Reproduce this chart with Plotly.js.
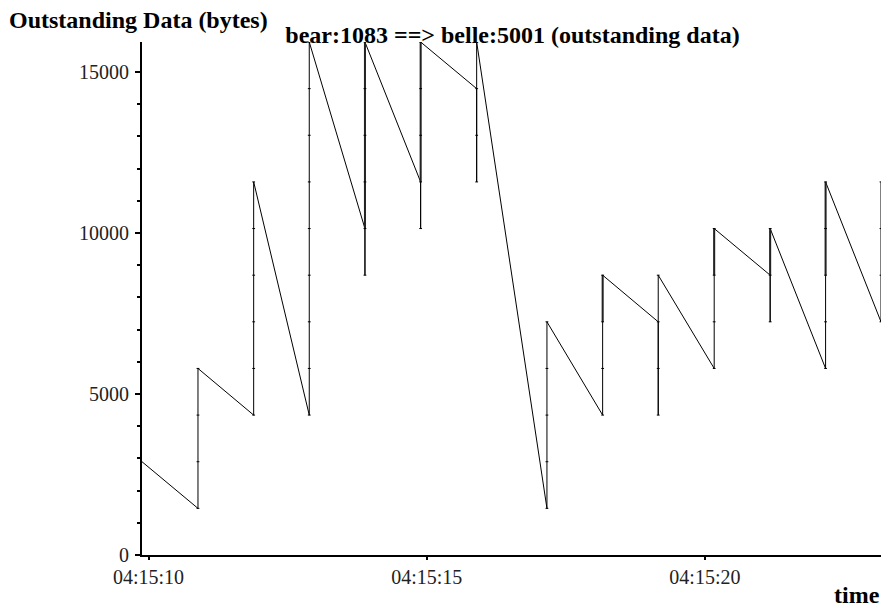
<!DOCTYPE html>
<html>
<head>
<meta charset="utf-8">
<script src="https://cdn.plot.ly/plotly-3.0.1.min.js"></script>
<style>html,body{margin:0;padding:0;background:#fff;}#chart{width:886px;height:611px;}</style>
</head>
<body>
<div id="chart"></div>
<script>
// ---- data ----
const dayPrefix = '2000-01-01 04:15:';
const startSec = 9.883;
const startBytes = 2896;
// time (seconds within 04:15) of each vertical burst
const eventSec = [10.889, 11.890, 12.889, 13.890, 14.891, 15.898, 17.161, 18.162, 19.161, 20.167, 21.173, 22.169, 23.165];
// outstanding bytes where each falling line ends
const fallEnd = [1448, 4344, 4344, 10136, 11584, 14480, 1448, 4344, 7240, 5792, 8688, 5792, 7240];
// bottom and top of each vertical burst
const burstLow = [1448, 4344, 4344, 8688, 10136, 11584, 1448, 4344, 4344, 5792, 7240, 5792, 7240];
const burstHigh = [5792, 11584, 15928, 15928, 15928, 15928, 7240, 8688, 8688, 10136, 10136, 11584, 11584];
// segment marks visible along each vertical burst
const segMarks = [
  [1448, 2896, 4344, 5792],
  [4344, 5792, 7240, 8688, 10136, 11584],
  [4344, 5792, 7240, 8688, 10136, 11584, 13032, 14480, 15928],
  [8688, 10136, 11584, 13032, 14480, 15928],
  [10136, 11584, 13032, 14480, 15928],
  [11584, 13032, 14480, 15928],
  [1448, 2896, 4344, 5792, 7240],
  [4344, 5792, 7240, 8688],
  [4344, 5792, 7240, 8688],
  [5792, 7240, 8688, 10136],
  [7240, 8688, 10136],
  [5792, 7240, 8688, 10136, 11584],
  [7240, 8688, 10136, 11584]
];
// parts of bursts drawn twice (appear heavier): burst index, low, high
const heavyIdx = [3, 4, 7, 9, 10, 11];
const heavyLow = [10136, 11584, 7240, 8688, 8688, 8688];
const heavyHigh = [15928, 15928, 8688, 10136, 10136, 11584];

const yTickVals = [0, 5000, 10000, 15000];
const yTickText = ['0', '5000', '10000', '15000'];
const xTickSec = [10, 15, 20];
const xTickText = ['04:15:10', '04:15:15', '04:15:20'];
const yMax = 15928;
const xEndSec = 23.165;

function ts(sec) {
  const whole = Math.floor(sec);
  const ms = Math.round((sec - whole) * 1000);
  return dayPrefix + String(whole).padStart(2, '0') + '.' + String(ms).padStart(3, '0');
}

// build the line path
const lx = [ts(startSec)], ly = [startBytes];
eventSec.forEach((s, i) => {
  lx.push(ts(s), ts(s), ts(s));
  ly.push(fallEnd[i], burstLow[i], burstHigh[i]);
});
const mx = [], my = [];
eventSec.forEach((s, i) => {
  segMarks[i].forEach(v => { mx.push(ts(s)); my.push(v); });
});
const hx = [], hy = [];
heavyIdx.forEach((k, j) => {
  hx.push(ts(eventSec[k]), ts(eventSec[k]), null);
  hy.push(heavyLow[j], heavyHigh[j], null);
});

const serif = 'Liberation Serif, Times New Roman, Times, serif';

const traces = [
  {x: lx, y: ly, type: 'scatter', mode: 'lines', line: {color: '#000', width: 1}, hoverinfo: 'skip', showlegend: false},
  {x: hx, y: hy, type: 'scatter', mode: 'lines', line: {color: '#222', width: 2}, connectgaps: false, hoverinfo: 'skip', showlegend: false},
  {x: mx, y: my, type: 'scatter', mode: 'markers',
   marker: {symbol: 'line-ew', size: 2, color: '#000', line: {color: '#000', width: 1}}, hoverinfo: 'skip', showlegend: false}
];

const layout = {
  width: 886, height: 611,
  margin: {l: 142, r: 5, t: 42, b: 56, pad: 0},
  paper_bgcolor: '#fff', plot_bgcolor: '#fff',
  font: {family: serif, size: 20, color: '#000'},
  showlegend: false,
  title: {
    text: '<b>bear:1083 ==> belle:5001 (outstanding data)</b>',
    font: {family: serif, size: 24, color: '#000'},
    xref: 'container', yref: 'container',
    x: 512.5 / 886, y: 1 - 35 / 611, xanchor: 'center', yanchor: 'middle'
  },
  xaxis: {
    type: 'date',
    range: [ts(startSec), ts(xEndSec)],
    tickvals: xTickSec.map(ts), ticktext: xTickText,
    showgrid: false, zeroline: false,
    showline: true, linecolor: '#000', linewidth: 2,
    ticks: 'outside', ticklen: 3, tickwidth: 2, tickcolor: '#000',
    tickfont: {family: serif, size: 20, color: '#222'},
    fixedrange: true
  },
  yaxis: {
    range: [0, yMax],
    tickvals: yTickVals, ticktext: yTickText,
    showgrid: false, zeroline: false,
    showline: true, linecolor: '#000', linewidth: 2,
    ticks: 'outside', ticklen: 5, tickwidth: 2, tickcolor: '#000',
    ticklabelstandoff: 2,
    minor: {dtick: 1000, ticks: 'outside', ticklen: 3, tickwidth: 2, tickcolor: '#000', showgrid: false},
    tickfont: {family: serif, size: 20, color: '#222'},
    fixedrange: true
  },
  annotations: [
    {text: '<b>Outstanding Data (bytes)</b>', xref: 'paper', yref: 'paper',
     x: (7 - 142) / 739, y: (555 - 20) / 513, xanchor: 'left', yanchor: 'middle', showarrow: false,
     font: {family: serif, size: 24, color: '#000'}},
    {text: '<b>time</b>', xref: 'paper', yref: 'paper',
     x: (882 - 142) / 739, y: (555 - 595) / 513, xanchor: 'right', yanchor: 'middle', showarrow: false,
     font: {family: serif, size: 24, color: '#000'}}
  ]
};

Plotly.newPlot('chart', traces, layout, {displayModeBar: false, staticPlot: true});
</script>
</body>
</html>
